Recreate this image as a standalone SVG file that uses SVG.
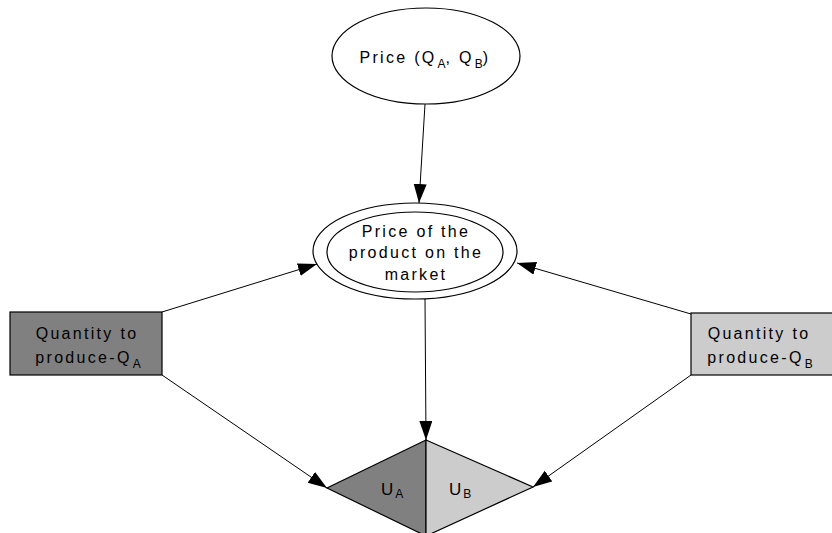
<svg xmlns="http://www.w3.org/2000/svg" width="832" height="533" viewBox="0 0 832 533">
  <style>
    .shape { stroke: #000; stroke-width: 1.2; }
    .label { font-family: "Liberation Sans", Arial, sans-serif; font-size: 16px; letter-spacing: 2.3px; fill: #000; text-anchor: middle; }
    .sub { font-size: 12px; letter-spacing: 0; }
    .conn { stroke: #000; stroke-width: 1; fill: none; marker-end: url(#arrow); }
  </style>
  <defs>
    <marker id="arrow" markerUnits="userSpaceOnUse" markerWidth="20" markerHeight="14" refX="19" refY="6.5" orient="auto">
      <path d="M0,0 L19,6.5 L0,13 Z" fill="#000"/>
    </marker>
  </defs>

  <rect width="832" height="533" fill="#fff"/>

  <!-- connectors -->
  <g id="connectors">
    <line class="conn" x1="425" y1="104" x2="419" y2="203"/>
    <line class="conn" x1="162" y1="312" x2="317" y2="264"/>
    <line class="conn" x1="691" y1="314" x2="517" y2="263"/>
    <line class="conn" x1="425" y1="299" x2="426" y2="440"/>
    <line class="conn" x1="162" y1="375" x2="327" y2="488"/>
    <line class="conn" x1="691" y1="375" x2="533" y2="487"/>
  </g>

  <!-- price as a function of both quantities -->
  <g id="price-q">
    <ellipse class="shape" cx="426" cy="56" rx="94" ry="48" fill="#fff"/>
    <text class="label" x="425" y="63">Price (Q<tspan class="sub" dx="1" dy="5">A</tspan><tspan dy="-5">, Q</tspan><tspan class="sub" dx="1" dy="5">B</tspan><tspan dy="-5">)</tspan></text>
  </g>

  <!-- market price -->
  <g id="market-price">
    <ellipse class="shape" cx="415" cy="251" rx="102" ry="48" fill="#fff"/>
    <ellipse class="shape" cx="415" cy="252" rx="88" ry="40" fill="none"/>
    <text class="label" x="416" y="237">Price of the</text>
    <text class="label" x="416" y="258">product on the</text>
    <text class="label" x="416" y="280">market</text>
  </g>

  <!-- quantity A -->
  <g id="quantity-a">
    <rect class="shape" x="10" y="312" width="152" height="63" fill="#808080"/>
    <text class="label" x="87" y="339">Quantity to</text>
    <text class="label" x="88" y="363">produce-Q<tspan class="sub" dx="1" dy="5">A</tspan></text>
  </g>

  <!-- quantity B -->
  <g id="quantity-b">
    <rect class="shape" x="691" y="313" width="145" height="62" fill="#cccccc"/>
    <text class="label" x="759" y="339">Quantity to</text>
    <text class="label" x="760" y="363">produce-Q<tspan class="sub" dx="1" dy="5">B</tspan></text>
  </g>

  <!-- utilities -->
  <g id="utilities">
    <polygon class="shape" points="426,440 327,488 426,536" fill="#808080"/>
    <polygon class="shape" points="426,440 533,487 426,536" fill="#cccccc"/>
    <text class="label" x="381" y="495" style="font-size:17px;text-anchor:start;letter-spacing:0">U<tspan class="sub" dx="2" dy="3" style="font-size:12px">A</tspan></text>
    <text class="label" x="449" y="495" style="font-size:17px;text-anchor:start;letter-spacing:0">U<tspan class="sub" dx="2" dy="3" style="font-size:12px">B</tspan></text>
  </g>
</svg>
